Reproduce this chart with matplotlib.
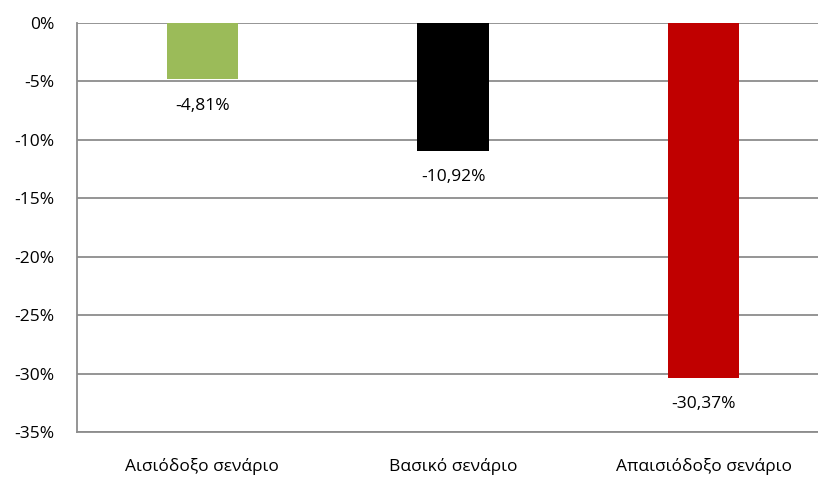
import matplotlib
matplotlib.use("Agg")
import matplotlib.pyplot as plt
from matplotlib.ticker import FuncFormatter

categories = ["Αισιόδοξο σενάριο", "Βασικό σενάριο", "Απαισιόδοξο σενάριο"]
values = [-4.81, -10.92, -30.37]
colors = ["#9bbb59", "#000000", "#c00000"]
yticks = [0, -5, -10, -15, -20, -25, -30, -35]

plt.rcParams['font.family'] = ['Open Sans', 'DejaVu Sans']

W, H = 818, 478
fig = plt.figure(figsize=(W/100, H/100), dpi=100)
left, right, top, bottom = 77, 829, 23, 432
ax = fig.add_axes([left/W, 1 - bottom/H, (right-left)/W, (bottom-top)/H])

x = list(range(len(categories)))
ax.bar(x, values, width=0.285, color=colors, zorder=3)
ax.set_xlim(-0.5, len(categories) - 0.5)
ax.set_ylim(-35, 0)
ax.set_yticks(yticks)
ax.yaxis.set_major_formatter(FuncFormatter(lambda v, p: f"{int(round(v))}%"))
ax.grid(axis='y', color='#8c8c8c', linewidth=1.3, zorder=1)
ax.set_xticks(x)
ax.set_xticklabels(categories)
for s in ['top', 'right']:
    ax.spines[s].set_visible(False)
for s in ['left', 'bottom']:
    ax.spines[s].set_color('#8c8c8c')
    ax.spines[s].set_linewidth(1.3)
ax.tick_params(axis='y', length=0, pad=16, labelsize=12.5)
ax.tick_params(axis='x', length=0, pad=19, labelsize=12.5)

for xi, v in zip(x, values):
    ax.annotate(f"{v:.2f}%".replace('.', ','), (xi, v), xytext=(0, -19),
                textcoords='offset points', ha='center', va='center', fontsize=12.5)

fig.savefig("out.png", dpi=100)
